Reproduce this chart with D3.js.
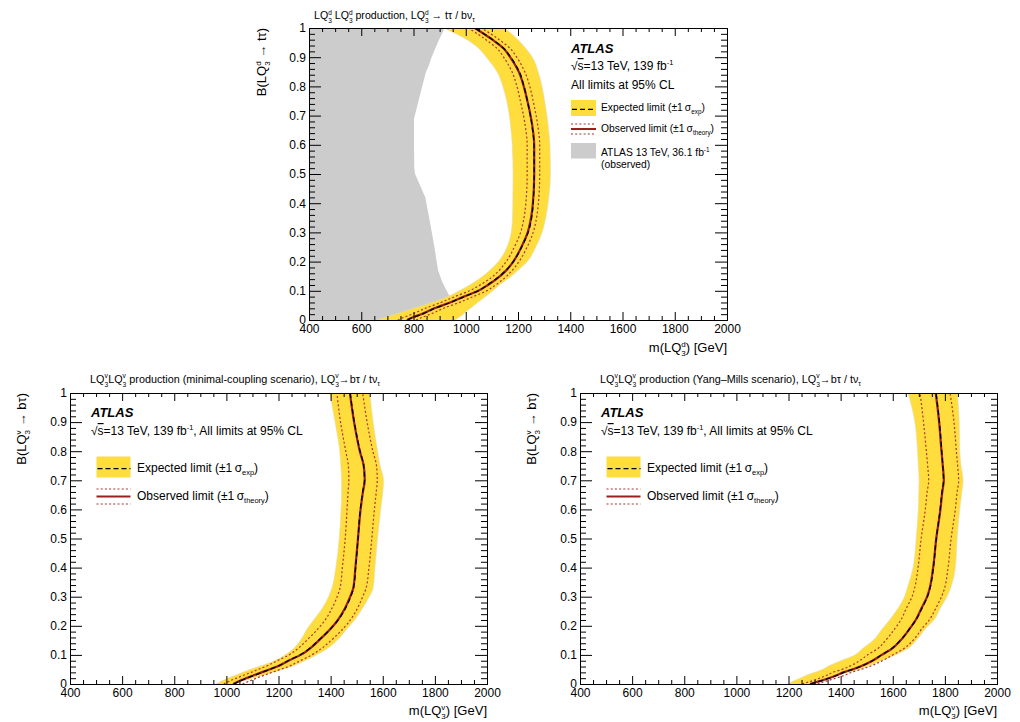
<!DOCTYPE html>
<html>
<head>
<meta charset="utf-8">
<script src="https://cdn.jsdelivr.net/npm/d3@7"></script>
<style>
  body { margin: 0; background: #fff; }
  svg text { font-family: "Liberation Sans", Arial, Helvetica, sans-serif; fill: #000; white-space: pre; }
</style>
</head>
<body>
<svg id="chart" width="1020" height="722"></svg>
<script>
// ---------------- data ----------------
// Axis ticks
const massTicks = [400, 600, 800, 1000, 1200, 1400, 1600, 1800, 2000];
const massTickLabels = ["400", "600", "800", "1000", "1200", "1400", "1600", "1800", "2000"];
const bTicks = [0, 0.1, 0.2, 0.3, 0.4, 0.5, 0.6, 0.7, 0.8, 0.9, 1];
const bTickLabels = ["0", "0.1", "0.2", "0.3", "0.4", "0.5", "0.6", "0.7", "0.8", "0.9", "1"];

// Scalar LQ3d: branching ratio grid and mass limits [GeV]
const bGridD  = [0, 0.01, 0.02, 0.03, 0.04, 0.06, 0.08, 0.10, 0.12, 0.14, 0.17, 0.20, 0.25, 0.30, 0.35, 0.40, 0.50, 0.60, 0.67, 0.75, 0.80, 0.85, 0.90, 0.93, 0.96, 1.00];
const obsD    = [775, 800, 830, 855, 880, 940, 993, 1048, 1085, 1117, 1155, 1182, 1213, 1237, 1250, 1257, 1262, 1262, 1254, 1236, 1222, 1203, 1170, 1145, 1102, 1035];
const expD    = [777, 802, 833, 858, 882, 942, 994, 1048, 1083, 1115, 1154, 1182, 1214, 1239, 1252, 1258, 1262, 1261, 1253, 1236, 1223, 1205, 1172, 1146, 1103, 1035];
const expLoD  = [660, 695, 730, 765, 800, 870, 930, 975, 1015, 1050, 1092, 1125, 1158, 1174, 1179, 1180, 1181, 1178, 1171, 1157, 1142, 1120, 1079, 1050, 1005, 915];
const expHiD  = [960, 975, 990, 1003, 1018, 1045, 1075, 1103, 1128, 1160, 1200, 1235, 1268, 1292, 1306, 1315, 1324, 1322, 1315, 1302, 1292, 1277, 1255, 1230, 1200, 1149];
const thLoD   = [740, 765, 795, 820, 845, 905, 958, 1015, 1055, 1090, 1128, 1155, 1186, 1210, 1223, 1230, 1235, 1235, 1227, 1209, 1196, 1177, 1145, 1120, 1077, 1010];
const thHiD   = [810, 835, 865, 890, 915, 975, 1028, 1080, 1115, 1144, 1178, 1204, 1235, 1258, 1271, 1278, 1283, 1283, 1275, 1258, 1245, 1226, 1195, 1170, 1128, 1060];

// Previous ATLAS 36.1 fb-1 observed exclusion (scalar LQ3d)
const prevB = [0, 0.04, 0.08, 0.13, 0.17, 0.25, 0.34, 0.42, 0.50, 0.52, 0.60, 0.69, 0.70, 0.80, 0.85, 0.87, 0.90, 0.95, 1.0];
const prevM = [962, 950, 939, 910, 894, 880, 862, 845, 806, 803, 802, 802, 805, 833, 848, 858, 869, 893, 919];

// Vector LQ3v: shared branching ratio grid
const bGridV = [0, 0.01, 0.02, 0.03, 0.04, 0.05, 0.06, 0.08, 0.10, 0.12, 0.15, 0.19, 0.22, 0.26, 0.30, 0.33, 0.40, 0.50, 0.60, 0.66, 0.70, 0.75, 0.80, 0.90, 1.00];

// Minimal-coupling scenario
const obsMin   = [1026, 1050, 1075, 1105, 1135, 1165, 1195, 1238, 1285, 1318, 1355, 1400, 1428, 1455, 1475, 1487, 1495, 1505, 1515, 1524, 1531, 1527, 1512, 1490, 1474];
const expMin   = [1028, 1052, 1078, 1108, 1137, 1166, 1195, 1237, 1283, 1316, 1354, 1400, 1429, 1457, 1477, 1488, 1496, 1505, 1514, 1523, 1530, 1527, 1513, 1491, 1475];
const expLoMin = [960, 982, 1005, 1035, 1062, 1090, 1125, 1185, 1225, 1256, 1284, 1310, 1335, 1368, 1392, 1405, 1420, 1433, 1440, 1442, 1442, 1439, 1435, 1417, 1397];
const expHiMin = [1030, 1062, 1100, 1140, 1180, 1215, 1250, 1300, 1345, 1385, 1425, 1463, 1492, 1522, 1548, 1563, 1570, 1580, 1592, 1600, 1603, 1590, 1580, 1563, 1550];
const thLoMin  = [990, 1012, 1038, 1066, 1095, 1122, 1150, 1195, 1240, 1272, 1308, 1352, 1379, 1405, 1425, 1436, 1445, 1456, 1463, 1467, 1470, 1468, 1458, 1438, 1424];
const thHiMin  = [1062, 1088, 1115, 1145, 1175, 1207, 1238, 1283, 1328, 1362, 1402, 1448, 1476, 1503, 1523, 1536, 1547, 1558, 1568, 1575, 1579, 1576, 1562, 1540, 1523];

// Yang-Mills scenario
const obsYM   = [1282, 1320, 1355, 1385, 1410, 1445, 1475, 1522, 1558, 1595, 1630, 1665, 1688, 1710, 1732, 1742, 1755, 1767, 1783, 1790, 1796, 1792, 1787, 1778, 1765];
const expYM   = [1284, 1322, 1357, 1387, 1412, 1446, 1476, 1522, 1557, 1593, 1629, 1665, 1689, 1712, 1733, 1743, 1756, 1767, 1782, 1789, 1795, 1792, 1788, 1779, 1766];
const expLoYM = [1199, 1218, 1245, 1269, 1300, 1330, 1350, 1400, 1455, 1482, 1525, 1560, 1588, 1620, 1645, 1656, 1678, 1690, 1698, 1700, 1701, 1698, 1695, 1685, 1659];
const expHiYM = [1269, 1308, 1350, 1390, 1430, 1470, 1500, 1555, 1610, 1655, 1690, 1725, 1758, 1782, 1808, 1822, 1840, 1847, 1857, 1865, 1870, 1862, 1857, 1855, 1848];
const thLoYM  = [1252, 1288, 1320, 1347, 1370, 1405, 1432, 1473, 1503, 1540, 1573, 1608, 1631, 1652, 1674, 1684, 1697, 1709, 1725, 1732, 1738, 1734, 1729, 1718, 1705];
const thHiYM  = [1312, 1345, 1382, 1415, 1442, 1478, 1510, 1560, 1600, 1640, 1678, 1712, 1740, 1765, 1787, 1799, 1812, 1824, 1840, 1847, 1853, 1849, 1844, 1835, 1820];

// ---------------- styles ----------------
const COL_BAND = "#fedd3c";
const COL_PREV = "#cccccc";
const COL_OBS = "#9a1f1f";
const COL_TH = "#b03030";
const FONT_TICK = 12;

const svg = d3.select("#chart");

// Rich text with ROOT-like super/subscripts.
// parts: strings, or ["sup", s], ["sub", s], ["ss", sup, sub] (stacked), ["ov", s] (overlined)
function rich(parent, parts, size, opts = {}) {
  const t = parent.append("text").attr("font-size", size);
  if (opts.weight) t.attr("font-weight", opts.weight);
  if (opts.italic) t.attr("font-style", "italic");
  const small = size * 0.62;
  let cur = 0, extraDx = 0;
  const add = (str, fs, off, dx) => {
    const ts = t.append("tspan").attr("font-size", fs).text(str);
    const dy = off - cur; cur = off;
    if (dy) ts.attr("dy", dy);
    if (dx) ts.attr("dx", dx);
    return ts;
  };
  parts.forEach(p => {
    if (typeof p === "string") { add(p, size, 0, extraDx); extraDx = 0; return; }
    const [kind, a, b] = p;
    if (kind === "sup") { add(a, small, -0.42 * size, extraDx); extraDx = 0; }
    else if (kind === "sub") { add(a, small, 0.3 * size, extraDx); extraDx = 0; }
    else if (kind === "ss") {
      const s1 = add(a, small, -0.42 * size, extraDx);
      const w1 = s1.node().getComputedTextLength();
      const s2 = add(b, small, 0.34 * size, -w1);
      const w2 = s2.node().getComputedTextLength();
      extraDx = Math.max(0, w1 - w2);
    } else if (kind === "ov") {
      add(a, size, 0, extraDx).style("text-decoration", "overline");
      extraDx = 0;
    }
  });
  return t;
}

function place(parent, parts, size, x, y, anchor = "start", opts = {}) {
  const t = rich(parent, parts, size, opts);
  let x0 = x;
  if (anchor === "end") x0 = x - t.node().getBBox().width;
  t.attr("x", x0).attr("y", y);
  return t;
}

function placeVertical(parent, parts, size, x, yTop) {
  const g = parent.append("g").attr("transform", `translate(${x},${yTop}) rotate(-90)`);
  const t = rich(g, parts, size);
  t.attr("x", -t.node().getBBox().width).attr("y", 0);
  return t;
}

const minorX = d3.range(400, 2001, 50).filter(v => v % 200 !== 0);
const minorB = d3.range(0, 51, 1).map(v => v / 50).filter((v, i) => i % 5 !== 0);

function panel(cfg) {
  const { L, R, T, Bm } = cfg;
  const x = d3.scaleLinear().domain([400, 2000]).range([L, R]);
  const y = d3.scaleLinear().domain([0, 1]).range([Bm, T]);
  const g = svg.append("g");
  const clipId = "clip" + cfg.id;
  svg.append("clipPath").attr("id", clipId)
    .append("rect").attr("x", L).attr("y", T).attr("width", R - L).attr("height", Bm - T);
  const data = g.append("g").attr("clip-path", `url(#${clipId})`);
  const idx = d3.range(cfg.B.length);
  const curve = d3.curveMonotoneY;

  if (cfg.prevB) {
    const pi = d3.range(cfg.prevB.length);
    data.append("path")
      .attr("d", d3.area().y(i => y(cfg.prevB[i])).x0(x(400)).x1(i => x(cfg.prevM[i]))(pi))
      .attr("fill", COL_PREV);
  }
  data.append("path")
    .attr("d", d3.area().curve(curve).y(i => y(cfg.B[i])).x0(i => x(cfg.lo[i])).x1(i => x(cfg.hi[i]))(idx))
    .attr("fill", COL_BAND).attr("stroke", "#e6dcae").attr("stroke-width", 0.6);

  const line = arr => d3.line().curve(curve).x(i => x(arr[i])).y(i => y(cfg.B[i]))(idx);
  [cfg.thLo, cfg.thHi].forEach(arr => {
    data.append("path").attr("d", line(arr)).attr("fill", "none")
      .attr("stroke", COL_TH).attr("stroke-width", 1.2).attr("stroke-dasharray", "2,2.2");
  });
  data.append("path").attr("d", line(cfg.obs)).attr("fill", "none")
    .attr("stroke", COL_OBS).attr("stroke-width", 2.2);
  data.append("path").attr("d", line(cfg.exp)).attr("fill", "none")
    .attr("stroke", "#000").attr("stroke-width", 1.3).attr("stroke-dasharray", "5,3");

  // frame
  g.append("rect").attr("x", L + 0.5).attr("y", T + 0.5).attr("width", R - L).attr("height", Bm - T)
    .attr("fill", "none").attr("stroke", "#000").attr("stroke-width", 1);

  const ax = (gen, tx, ty) => {
    const a = g.append("g").attr("transform", `translate(${tx},${ty})`).call(gen);
    a.select(".domain").remove();
    a.attr("font-size", FONT_TICK).attr("font-family", null);
    a.selectAll("line").attr("stroke", "#000");
    return a;
  };
  ax(d3.axisBottom(x).tickValues(massTicks).tickFormat((d, i) => massTickLabels[i])
      .tickSizeInner(-8).tickSizeOuter(0).tickPadding(4), 0, Bm);
  ax(d3.axisBottom(x).tickValues(minorX).tickFormat("").tickSizeInner(-4).tickSizeOuter(0), 0, Bm);
  ax(d3.axisTop(x).tickValues(massTicks).tickFormat("").tickSizeInner(-8).tickSizeOuter(0), 0, T);
  ax(d3.axisTop(x).tickValues(minorX).tickFormat("").tickSizeInner(-4).tickSizeOuter(0), 0, T);
  ax(d3.axisLeft(y).tickValues(bTicks).tickFormat((d, i) => bTickLabels[i])
      .tickSizeInner(-12).tickSizeOuter(0).tickPadding(3), L, 0);
  ax(d3.axisLeft(y).tickValues(minorB).tickFormat("").tickSizeInner(-6).tickSizeOuter(0), L, 0);
  ax(d3.axisRight(y).tickValues(bTicks).tickFormat("").tickSizeInner(-12).tickSizeOuter(0), R, 0);
  ax(d3.axisRight(y).tickValues(minorB).tickFormat("").tickSizeInner(-6).tickSizeOuter(0), R, 0);

  // titles
  place(g, cfg.title, cfg.titleSize, cfg.titleX, cfg.titleY);
  place(g, cfg.xTitle, 13, R, cfg.xTitleY, "end");
  placeVertical(g, cfg.yTitle, 13, cfg.yTitleX, T);
  return g;
}

// legend helpers
function legendBand(g, x, y, w, h) {
  g.append("rect").attr("x", x).attr("y", y).attr("width", w).attr("height", h).attr("fill", COL_BAND);
  g.append("line").attr("x1", x + 1).attr("x2", x + w).attr("y1", y + h * 0.58).attr("y2", y + h * 0.58)
    .attr("stroke", "#000").attr("stroke-width", 1.3).attr("stroke-dasharray", "5,3");
}
function legendObs(g, x, yMid, w, gap) {
  [yMid - gap, yMid + gap].forEach(yy => g.append("line").attr("x1", x).attr("x2", x + w)
    .attr("y1", yy).attr("y2", yy).attr("stroke", COL_TH).attr("stroke-width", 1.1).attr("stroke-dasharray", "2,2.2"));
  g.append("line").attr("x1", x).attr("x2", x + w).attr("y1", yMid).attr("y2", yMid)
    .attr("stroke", COL_OBS).attr("stroke-width", 2);
}

const sqrtS = ["\u221A", ["ov", "s"], "=13 TeV, 139 fb", ["sup", "-1"]];
const expLabel = ["Expected limit (\u00B11\u2009\u03C3", ["sub", "exp"], ")"];
const obsLabel = ["Observed limit (\u00B11\u2009\u03C3", ["sub", "theory"], ")"];

// ---- top panel: scalar LQ3d ----
const gTop = panel({
  id: "top", L: 309, R: 727, T: 28, Bm: 320,
  B: bGridD, obs: obsD, exp: expD, lo: expLoD, hi: expHiD, thLo: thLoD, thHi: thHiD,
  prevB: prevB, prevM: prevM,
  title: ["LQ", ["ss", "d", "3"], " LQ", ["ss", "d", "3"], " production, LQ", ["ss", "d", "3"], " \u2192 t\u03C4 / b\u03BD", ["sub", "\u03C4"]],
  titleX: 314, titleY: 19, titleSize: 10.6,
  xTitle: ["m(LQ", ["ss", "d", "3"], ") [GeV]"], xTitleY: 352,
  yTitle: ["B(LQ", ["ss", "d", "3"], " \u2192 t\u03C4)"], yTitleX: 266
});
place(gTop, ["ATLAS"], 13, 571, 53, "start", { weight: "bold", italic: true });
place(gTop, sqrtS, 12, 571, 70);
place(gTop, ["All limits at 95% CL"], 12, 571, 89);
legendBand(gTop, 571, 100, 25, 16);
place(gTop, expLabel, 10.3, 601, 110.5);
legendObs(gTop, 571, 129, 25, 5);
place(gTop, obsLabel, 10.3, 601, 131.5);
gTop.append("rect").attr("x", 571).attr("y", 143).attr("width", 25).attr("height", 15.5).attr("fill", COL_PREV);
place(gTop, ["ATLAS 13 TeV, 36.1 fb", ["sup", "-1"]], 10.3, 601, 156);
place(gTop, ["(observed)"], 10.3, 601, 168);

// ---- bottom panels: vector LQ3v ----
const vecPanels = [
  { id: "min", L: 70, R: 487, scen: "minimal-coupling scenario",
    obs: obsMin, exp: expMin, lo: expLoMin, hi: expHiMin, thLo: thLoMin, thHi: thHiMin },
  { id: "ym", L: 580, R: 997, scen: "Yang\u2013Mills scenario",
    obs: obsYM, exp: expYM, lo: expLoYM, hi: expHiYM, thLo: thLoYM, thHi: thHiYM }
];
vecPanels.forEach(p => {
  const g = panel({
    id: p.id, L: p.L, R: p.R, T: 393, Bm: 684,
    B: bGridV, obs: p.obs, exp: p.exp, lo: p.lo, hi: p.hi, thLo: p.thLo, thHi: p.thHi,
    title: ["LQ", ["ss", "v", "3"], "LQ", ["ss", "v", "3"], " production (" + p.scen + "), LQ", ["ss", "v", "3"], "\u2192b\u03C4 / t\u03BD", ["sub", "\u03C4"]],
    titleX: p.L + 20, titleY: 383, titleSize: 10.8,
    xTitle: ["m(LQ", ["ss", "v", "3"], ") [GeV]"], xTitleY: 715,
    yTitle: ["B(LQ", ["ss", "v", "3"], " \u2192 b\u03C4)"], yTitleX: p.L - 44
  });
  const lx = p.L + 21;
  place(g, ["ATLAS"], 13, lx, 416.5, "start", { weight: "bold", italic: true });
  place(g, sqrtS.concat([", All limits at 95% CL"]), 12, lx, 435);
  legendBand(g, p.L + 26.5, 456.5, 34, 21);
  place(g, expLabel, 12, p.L + 67, 471.5);
  legendObs(g, p.L + 26.5, 496.5, 34, 7.5);
  place(g, obsLabel, 12, p.L + 67, 499.5);
});
</script>
</body>
</html>
